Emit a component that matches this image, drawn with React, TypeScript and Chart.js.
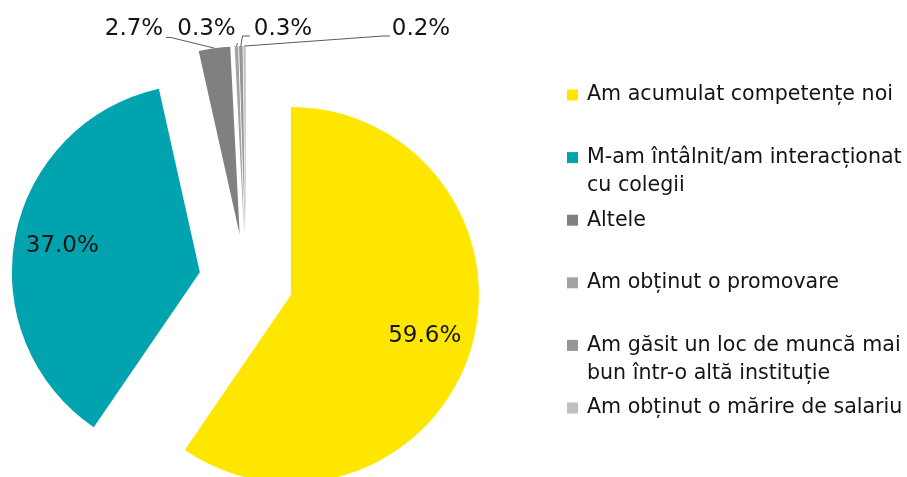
import React, { useEffect, useRef } from 'react';
import { Chart, registerables } from 'chart.js';

Chart.register(...registerables);

// ---- data ----
const categories = [
  'Am acumulat competențe noi',
  'M-am întâlnit/am interacționat cu colegii',
  'Altele',
  'Am obținut o promovare',
  'Am găsit un loc de muncă mai bun într-o altă instituție',
  'Am obținut o mărire de salariu',
];
const legendLines = [
  ['Am acumulat competențe noi'],
  ['M-am întâlnit/am interacționat', 'cu colegii'],
  ['Altele'],
  ['Am obținut o promovare'],
  ['Am găsit un loc de muncă mai', 'bun într-o altă instituție'],
  ['Am obținut o mărire de salariu'],
];
const values = [59.6, 37.0, 2.7, 0.3, 0.3, 0.2];
const colors = ['#FFE600', '#00A3AE', '#808080', '#A3A3A3', '#969696', '#C0C0C0'];

// ---- layout / style ----
const W = 907;
const H = 477;
const EXPLODE = 47;
const RADIUS = 188;
const FONT = '"DejaVu Sans", sans-serif';
const TEXT_COLOR = '#141414';
const LEADER_COLOR = '#5a5a5a';
const INSIDE_LABEL_RATIO = 0.745;
const OUT_LABEL_Y = 29;
const outsideLabelX = [134, 206.5, 283, 421];
const outsideLeaders: number[][][] = [
  [[171, 37.5], [166, 37.5]],
  [[237.5, 43]],
  [[242.5, 36], [250, 36]],
  [[383, 36], [390, 36]],
];
const LEGEND_BOX_X = 567;
const LEGEND_BOX = 11;
const LEGEND_TEXT_X = 587;
const LEGEND_Y0 = 95;
const LEGEND_STEP = 62.6;
const LEGEND_LINE = 28;

const explodePlugin = {
  id: 'explodeSlices',
  beforeDatasetDraw(chart: any, args: any) {
    const ctx = chart.ctx;
    args.meta.data.forEach((arc: any) => {
      const mid = (arc.startAngle + arc.endAngle) / 2;
      ctx.save();
      ctx.translate(Math.cos(mid) * EXPLODE, Math.sin(mid) * EXPLODE);
      arc.draw(ctx);
      ctx.restore();
    });
    return false;
  },
};

const labelsPlugin = {
  id: 'sliceLabels',
  afterDatasetsDraw(chart: any) {
    const ctx = chart.ctx;
    const meta = chart.getDatasetMeta(0);
    ctx.save();
    ctx.fillStyle = TEXT_COLOR;
    ctx.font = `23px ${FONT}`;
    ctx.textAlign = 'center';
    ctx.textBaseline = 'middle';
    meta.data.forEach((arc: any, i: number) => {
      const mid = (arc.startAngle + arc.endAngle) / 2;
      const c = Math.cos(mid);
      const s = Math.sin(mid);
      const vx = arc.x + c * EXPLODE;
      const vy = arc.y + s * EXPLODE;
      const text = values[i].toFixed(1) + '%';
      if (i < 2) {
        const r = arc.outerRadius * INSIDE_LABEL_RATIO;
        ctx.fillText(text, vx + c * r, vy + s * r);
      } else {
        const k = i - 2;
        const px = vx + c * arc.outerRadius;
        const py = vy + s * arc.outerRadius;
        ctx.beginPath();
        ctx.moveTo(px, py);
        outsideLeaders[k].forEach((p) => ctx.lineTo(p[0], p[1]));
        ctx.strokeStyle = LEADER_COLOR;
        ctx.lineWidth = 1;
        ctx.stroke();
        ctx.fillText(text, outsideLabelX[k], OUT_LABEL_Y);
      }
    });
    ctx.restore();
  },
};

const legendPlugin = {
  id: 'sideLegend',
  afterDraw(chart: any) {
    const ctx = chart.ctx;
    ctx.save();
    ctx.font = `20.6px ${FONT}`;
    ctx.textAlign = 'left';
    ctx.textBaseline = 'middle';
    legendLines.forEach((lines, i) => {
      const cy = LEGEND_Y0 + i * LEGEND_STEP;
      ctx.fillStyle = colors[i];
      ctx.fillRect(LEGEND_BOX_X, cy - LEGEND_BOX / 2, LEGEND_BOX, LEGEND_BOX);
      ctx.fillStyle = TEXT_COLOR;
      lines.forEach((ln, j) => ctx.fillText(ln, LEGEND_TEXT_X, cy + j * LEGEND_LINE));
    });
    ctx.restore();
  },
};

export default function App() {
  const ref = useRef<HTMLCanvasElement | null>(null);
  useEffect(() => {
    document.body.style.margin = '0';
    if (!ref.current) return;
    const chart = new Chart(ref.current, {
      type: 'pie',
      data: {
        labels: categories,
        datasets: [
          {
            data: values,
            backgroundColor: colors,
            borderWidth: 0,
            radius: RADIUS,
          } as any,
        ],
      },
      options: {
        responsive: false,
        animation: false,
        events: [],
        layout: { padding: { left: 0, right: W - 492, top: 85, bottom: 0 } },
        plugins: {
          legend: { display: false },
          tooltip: { enabled: false },
          title: { display: false },
        },
      },
      plugins: [explodePlugin, labelsPlugin, legendPlugin],
    });
    return () => chart.destroy();
  }, []);
  return (
    <div style={{ width: W, height: H, background: '#fff' }}>
      <canvas ref={ref} width={W} height={H} style={{ width: W, height: H, display: 'block' }} />
    </div>
  );
}
